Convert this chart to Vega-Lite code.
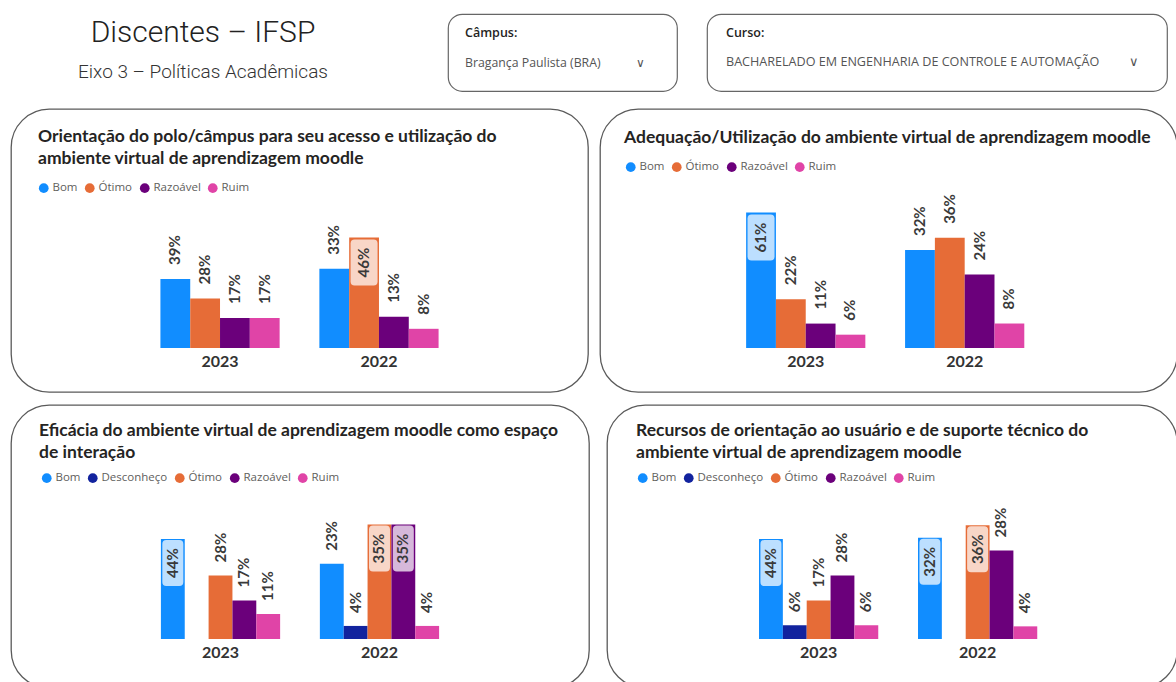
{
  "$schema": "https://vega.github.io/schema/vega-lite/v6.json",
  "background": "white",
  "padding": {"left": 10, "top": 13, "right": 0, "bottom": 0},
  "datasets": {
    "d": [
      {"p": 1, "year": "2023", "cat": "Bom", "v": 0.39},
      {"p": 1, "year": "2023", "cat": "Ótimo", "v": 0.28},
      {"p": 1, "year": "2023", "cat": "Razoável", "v": 0.17},
      {"p": 1, "year": "2023", "cat": "Ruim", "v": 0.17},
      {"p": 1, "year": "2022", "cat": "Bom", "v": 0.33},
      {"p": 1, "year": "2022", "cat": "Ótimo", "v": 0.46},
      {"p": 1, "year": "2022", "cat": "Razoável", "v": 0.13},
      {"p": 1, "year": "2022", "cat": "Ruim", "v": 0.08},
      {"p": 2, "year": "2023", "cat": "Bom", "v": 0.61},
      {"p": 2, "year": "2023", "cat": "Ótimo", "v": 0.22},
      {"p": 2, "year": "2023", "cat": "Razoável", "v": 0.11},
      {"p": 2, "year": "2023", "cat": "Ruim", "v": 0.06},
      {"p": 2, "year": "2022", "cat": "Bom", "v": 0.32},
      {"p": 2, "year": "2022", "cat": "Ótimo", "v": 0.36},
      {"p": 2, "year": "2022", "cat": "Razoável", "v": 0.24},
      {"p": 2, "year": "2022", "cat": "Ruim", "v": 0.08},
      {"p": 3, "year": "2023", "cat": "Bom", "v": 0.44},
      {"p": 3, "year": "2023", "cat": "Ótimo", "v": 0.28},
      {"p": 3, "year": "2023", "cat": "Razoável", "v": 0.17},
      {"p": 3, "year": "2023", "cat": "Ruim", "v": 0.11},
      {"p": 3, "year": "2022", "cat": "Bom", "v": 0.23},
      {"p": 3, "year": "2022", "cat": "Desconheço", "v": 0.04},
      {"p": 3, "year": "2022", "cat": "Ótimo", "v": 0.35},
      {"p": 3, "year": "2022", "cat": "Razoável", "v": 0.35},
      {"p": 3, "year": "2022", "cat": "Ruim", "v": 0.04},
      {"p": 4, "year": "2023", "cat": "Bom", "v": 0.44},
      {"p": 4, "year": "2023", "cat": "Desconheço", "v": 0.06},
      {"p": 4, "year": "2023", "cat": "Ótimo", "v": 0.17},
      {"p": 4, "year": "2023", "cat": "Razoável", "v": 0.28},
      {"p": 4, "year": "2023", "cat": "Ruim", "v": 0.06},
      {"p": 4, "year": "2022", "cat": "Bom", "v": 0.32},
      {"p": 4, "year": "2022", "cat": "Ótimo", "v": 0.36},
      {"p": 4, "year": "2022", "cat": "Razoável", "v": 0.28},
      {"p": 4, "year": "2022", "cat": "Ruim", "v": 0.04}
    ]
  },
  "config": {
    "view": {"stroke": "#5a5a5a", "strokeWidth": 1.3, "cornerRadius": 38},
    "font": "Lato",
    "title": {"anchor": "start", "frame": "group", "font": "Lato", "fontWeight": 700, "fontSize": 17.5, "color": "#252423", "lineHeight": 22},
    "legend": {"orient": "none", "direction": "horizontal", "title": null, "symbolType": "circle", "symbolSize": 95, "symbolStrokeWidth": 0, "labelFont": "Open Sans", "labelFontSize": 11.5, "labelColor": "#605E5C", "columnPadding": 6, "labelOffset": 3},
    "axisX": {"orient": "bottom", "domain": false, "ticks": false, "grid": false, "title": null, "labelAngle": 0, "labelFont": "Lato", "labelFontWeight": 700, "labelFontSize": 16, "labelColor": "#333333", "labelPadding": 5}
  },
  "spacing": 11,
  "resolve": {"scale": {"color": "independent", "x": "independent", "y": "independent", "xOffset": "independent"}, "legend": {"color": "independent"}},
  "vconcat": [
    {
      "spacing": 28,
      "resolve": {"scale": {"color": "independent"}, "legend": {"color": "independent"}},
      "hconcat": [
        {
          "width": 408, "height": 83,
          "view": {"stroke": null},
          "data": {"values": [{"t": ""}]},
          "mark": {"type": "text"},
          "encoding": {"text": {"field": "t"}},
          "title": {"text": "Discentes – IFSP", "subtitle": "Eixo 3 – Políticas Acadêmicas", "anchor": "middle", "frame": "group", "offset": -68, "dx": -12, "font": "Roboto", "fontWeight": 300, "fontSize": 30, "color": "#222222", "subtitleFont": "Roboto", "subtitleFontWeight": 300, "subtitleFontSize": 19, "subtitleColor": "#333333", "subtitlePadding": 15}
        },
        {
          "width": 229, "height": 77,
          "view": {"stroke": "#666666", "cornerRadius": 14, "strokeWidth": 1.2},
          "data": {"values": [{"t": ""}]},
          "mark": {"type": "text"},
          "encoding": {"text": {"field": "t"}},
          "title": {"text": "Câmpus:", "subtitle": "Bragança Paulista (BRA)\u00a0\u00a0\u00a0\u00a0\u00a0\u00a0\u00a0\u00a0\u00a0\u00a0\u00a0∨", "offset": -55, "dx": 17, "font": "Open Sans", "fontWeight": 600, "fontSize": 12.5, "color": "#252423", "subtitleFont": "Open Sans", "subtitleFontSize": 12.3, "subtitleColor": "#555555", "subtitlePadding": 17}
        },
        {
          "width": 460, "height": 77,
          "view": {"stroke": "#666666", "cornerRadius": 14, "strokeWidth": 1.2},
          "data": {"values": [{"t": ""}]},
          "mark": {"type": "text"},
          "encoding": {"text": {"field": "t"}},
          "title": {"text": "Curso:", "subtitle": "BACHARELADO EM ENGENHARIA DE CONTROLE E AUTOMAÇÃO\u00a0\u00a0\u00a0\u00a0\u00a0\u00a0\u00a0\u00a0\u00a0∨", "offset": -55, "dx": 19, "font": "Open Sans", "fontWeight": 600, "fontSize": 12.5, "color": "#252423", "subtitleFont": "Open Sans", "subtitleFontSize": 12.6, "subtitleColor": "#555555", "subtitlePadding": 17}
        }
      ]
    },
    {
      "spacing": 10,
      "resolve": {"scale": {"color": "independent", "x": "independent", "y": "independent", "xOffset": "independent"}, "legend": {"color": "independent"}},
      "hconcat": [
        {
          "width": 577, "height": 283,
          "title": {"text": ["Orientação do polo/câmpus para seu acesso e utilização do", "ambiente virtual de aprendizagem moodle"], "offset": -58, "dx": 27},
          "data": {"name": "d"},
          "transform": [{"filter": "datum.p == 1"}],
          "encoding": {
            "x": {"field": "year", "type": "nominal", "scale": {"domain": ["2023", "2022"], "paddingInner": 0.25, "paddingOuter": 0.94}, "axis": {"offset": -44}},
            "xOffset": {"field": "cat", "type": "nominal", "scale": {"domain": ["Bom", "Ótimo", "Razoável", "Ruim"], "paddingInner": 0, "paddingOuter": 0}},
            "color": {"field": "cat", "type": "nominal", "scale": {"domain": ["Bom", "Ótimo", "Razoável", "Ruim"], "range": ["#118DFF", "#E66C37", "#6B007B", "#E044A7"]}, "legend": {"legendX": 27, "legendY": 73}}
          },
          "resolve": {"scale": {"y": "independent"}},
          "layer": [
            {
              "transform": [{"filter": "datum.year == '2023'"}],
              "encoding": {"y": {"field": "v", "type": "quantitative", "scale": {"domain": [-0.2486, 1.3503], "nice": false, "zero": false}, "axis": null}},
              "layer": [
                {"mark": {"type": "bar"}},
                {"mark": {"type": "text", "angle": -90, "align": "left", "baseline": "middle", "dx": 14, "font": "Lato", "fontWeight": 700, "fontSize": 15}, "encoding": {"text": {"field": "v", "format": ".0%"}, "color": {"value": "#3a3a3a"}}}
              ]
            },
            {
              "transform": [{"filter": "datum.year == '2022'"}],
              "encoding": {"y": {"field": "v", "type": "quantitative", "scale": {"domain": [-0.1833, 0.9958], "nice": false, "zero": false}, "axis": null}},
              "layer": [
                {"mark": {"type": "bar"}},
                {"transform": [{"filter": "datum.v <= 0.4"}], "mark": {"type": "text", "angle": -90, "align": "left", "baseline": "middle", "dx": 14, "font": "Lato", "fontWeight": 700, "fontSize": 15}, "encoding": {"text": {"field": "v", "format": ".0%"}, "color": {"value": "#3a3a3a"}}},
                {"transform": [{"filter": "datum.v > 0.4"}], "mark": {"type": "point", "shape": "M-9.5,2H9.5Q13.5,2 13.5,6V44Q13.5,48 9.5,48H-9.5Q-13.5,48 -13.5,44V6Q-13.5,2 -9.5,2Z", "size": 4, "filled": true, "opacity": 0.72, "strokeWidth": 0}, "encoding": {"color": {"value": "white"}}},
                {"transform": [{"filter": "datum.v > 0.4"}], "mark": {"type": "text", "angle": -90, "align": "center", "baseline": "middle", "dx": -25, "font": "Lato", "fontWeight": 700, "fontSize": 15}, "encoding": {"text": {"field": "v", "format": ".0%"}, "color": {"value": "#3a3a3a"}}}
              ]
            }
          ]
        },
        {
          "width": 577, "height": 283,
          "title": {"text": "Adequação/Utilização do ambiente virtual de aprendizagem moodle", "offset": -37, "dx": 24},
          "data": {"name": "d"},
          "transform": [{"filter": "datum.p == 2"}],
          "encoding": {
            "x": {"field": "year", "type": "nominal", "scale": {"domain": ["2023", "2022"], "paddingInner": 0.25, "paddingOuter": 0.94, "align": 0.489}, "axis": {"offset": -44}},
            "xOffset": {"field": "cat", "type": "nominal", "scale": {"domain": ["Bom", "Ótimo", "Razoável", "Ruim"], "paddingInner": 0, "paddingOuter": 0}},
            "color": {"field": "cat", "type": "nominal", "scale": {"domain": ["Bom", "Ótimo", "Razoável", "Ruim"], "range": ["#118DFF", "#E66C37", "#6B007B", "#E044A7"]}, "legend": {"legendX": 25, "legendY": 52}}
          },
          "resolve": {"scale": {"y": "independent"}},
          "layer": [
            {
              "transform": [{"filter": "datum.year == '2023'"}],
              "encoding": {"y": {"field": "v", "type": "quantitative", "scale": {"domain": [-0.1982, 1.0766], "nice": false, "zero": false}, "axis": null}},
              "layer": [
                {"mark": {"type": "bar"}},
                {"transform": [{"filter": "datum.v <= 0.5"}], "mark": {"type": "text", "angle": -90, "align": "left", "baseline": "middle", "dx": 14, "font": "Lato", "fontWeight": 700, "fontSize": 15}, "encoding": {"text": {"field": "v", "format": ".0%"}, "color": {"value": "#3a3a3a"}}},
                {"transform": [{"filter": "datum.v > 0.5"}], "mark": {"type": "point", "shape": "M-9.5,2H9.5Q13.5,2 13.5,6V44Q13.5,48 9.5,48H-9.5Q-13.5,48 -13.5,44V6Q-13.5,2 -9.5,2Z", "size": 4, "filled": true, "opacity": 0.72, "strokeWidth": 0}, "encoding": {"color": {"value": "white"}}},
                {"transform": [{"filter": "datum.v > 0.5"}], "mark": {"type": "text", "angle": -90, "align": "center", "baseline": "middle", "dx": -25, "font": "Lato", "fontWeight": 700, "fontSize": 15}, "encoding": {"text": {"field": "v", "format": ".0%"}, "color": {"value": "#3a3a3a"}}}
              ]
            },
            {
              "transform": [{"filter": "datum.year == '2022'"}],
              "encoding": {"y": {"field": "v", "type": "quantitative", "scale": {"domain": [-0.1438, 0.781], "nice": false, "zero": false}, "axis": null}},
              "layer": [
                {"mark": {"type": "bar"}},
                {"mark": {"type": "text", "angle": -90, "align": "left", "baseline": "middle", "dx": 14, "font": "Lato", "fontWeight": 700, "fontSize": 15}, "encoding": {"text": {"field": "v", "format": ".0%"}, "color": {"value": "#3a3a3a"}}}
              ]
            }
          ]
        }
      ]
    },
    {
      "spacing": 16,
      "resolve": {"scale": {"color": "independent", "x": "independent", "y": "independent", "xOffset": "independent"}, "legend": {"color": "independent"}},
      "hconcat": [
        {
          "width": 578, "height": 283,
          "title": {"text": ["Eficácia do ambiente virtual de aprendizagem moodle como espaço", "de interação"], "offset": -56, "dx": 28},
          "data": {"name": "d"},
          "transform": [{"filter": "datum.p == 3"}],
          "encoding": {
            "x": {"field": "year", "type": "nominal", "scale": {"domain": ["2023", "2022"], "paddingInner": 0.25, "paddingOuter": 0.943}, "axis": {"offset": -49}},
            "xOffset": {"field": "cat", "type": "nominal", "scale": {"domain": ["Bom", "Desconheço", "Ótimo", "Razoável", "Ruim"], "paddingInner": 0, "paddingOuter": 0}},
            "color": {"field": "cat", "type": "nominal", "scale": {"domain": ["Bom", "Desconheço", "Ótimo", "Razoável", "Ruim"], "range": ["#118DFF", "#12239E", "#E66C37", "#6B007B", "#E044A7"]}, "legend": {"legendX": 30, "legendY": 67}}
          },
          "resolve": {"scale": {"y": "independent"}},
          "layer": [
            {
              "transform": [{"filter": "datum.year == '2023'"}],
              "encoding": {"y": {"field": "v", "type": "quantitative", "scale": {"domain": [-0.2159, 1.0308], "nice": false, "zero": false}, "axis": null}},
              "layer": [
                {"mark": {"type": "bar"}},
                {"transform": [{"filter": "datum.v <= 0.4"}], "mark": {"type": "text", "angle": -90, "align": "left", "baseline": "middle", "dx": 13, "font": "Lato", "fontWeight": 700, "fontSize": 15}, "encoding": {"text": {"field": "v", "format": ".0%"}, "color": {"value": "#3a3a3a"}}},
                {"transform": [{"filter": "datum.v > 0.4"}], "mark": {"type": "point", "shape": "M-6.5,1H6.5Q10.5,1 10.5,5V43Q10.5,47 6.5,47H-6.5Q-10.5,47 -10.5,43V5Q-10.5,1 -6.5,1Z", "size": 4, "filled": true, "opacity": 0.72, "strokeWidth": 0}, "encoding": {"color": {"value": "white"}}},
                {"transform": [{"filter": "datum.v > 0.4"}], "mark": {"type": "text", "angle": -90, "align": "center", "baseline": "middle", "dx": -24, "font": "Lato", "fontWeight": 700, "fontSize": 15}, "encoding": {"text": {"field": "v", "format": ".0%"}, "color": {"value": "#3a3a3a"}}}
              ]
            },
            {
              "transform": [{"filter": "datum.year == '2022'"}],
              "encoding": {"y": {"field": "v", "type": "quantitative", "scale": {"domain": [-0.1498, 0.7156], "nice": false, "zero": false}, "axis": null}},
              "layer": [
                {"mark": {"type": "bar"}},
                {"transform": [{"filter": "datum.v <= 0.3"}], "mark": {"type": "text", "angle": -90, "align": "left", "baseline": "middle", "dx": 13, "font": "Lato", "fontWeight": 700, "fontSize": 15}, "encoding": {"text": {"field": "v", "format": ".0%"}, "color": {"value": "#3a3a3a"}}},
                {"transform": [{"filter": "datum.v > 0.3"}], "mark": {"type": "point", "shape": "M-6.5,1H6.5Q10.5,1 10.5,5V43Q10.5,47 6.5,47H-6.5Q-10.5,47 -10.5,43V5Q-10.5,1 -6.5,1Z", "size": 4, "filled": true, "opacity": 0.72, "strokeWidth": 0}, "encoding": {"color": {"value": "white"}}},
                {"transform": [{"filter": "datum.v > 0.3"}], "mark": {"type": "text", "angle": -90, "align": "center", "baseline": "middle", "dx": -24, "font": "Lato", "fontWeight": 700, "fontSize": 15}, "encoding": {"text": {"field": "v", "format": ".0%"}, "color": {"value": "#3a3a3a"}}}
              ]
            }
          ]
        },
        {
          "width": 570, "height": 283,
          "title": {"text": ["Recursos de orientação ao usuário e de suporte técnico do", "ambiente virtual de aprendizagem moodle"], "offset": -56, "dx": 29},
          "data": {"name": "d"},
          "transform": [{"filter": "datum.p == 4"}],
          "encoding": {
            "x": {"field": "year", "type": "nominal", "scale": {"domain": ["2023", "2022"], "paddingInner": 0.25, "paddingOuter": 0.9175, "align": 0.521}, "axis": {"offset": -49}},
            "xOffset": {"field": "cat", "type": "nominal", "scale": {"domain": ["Bom", "Desconheço", "Ótimo", "Razoável", "Ruim"], "paddingInner": 0, "paddingOuter": 0}},
            "color": {"field": "cat", "type": "nominal", "scale": {"domain": ["Bom", "Desconheço", "Ótimo", "Razoável", "Ruim"], "range": ["#118DFF", "#12239E", "#E66C37", "#6B007B", "#E044A7"]}, "legend": {"legendX": 30, "legendY": 67}}
          },
          "resolve": {"scale": {"y": "independent"}},
          "layer": [
            {
              "transform": [{"filter": "datum.year == '2023'"}],
              "encoding": {"y": {"field": "v", "type": "quantitative", "scale": {"domain": [-0.2159, 1.0308], "nice": false, "zero": false}, "axis": null}},
              "layer": [
                {"mark": {"type": "bar"}},
                {"transform": [{"filter": "datum.v <= 0.4"}], "mark": {"type": "text", "angle": -90, "align": "left", "baseline": "middle", "dx": 13, "font": "Lato", "fontWeight": 700, "fontSize": 15}, "encoding": {"text": {"field": "v", "format": ".0%"}, "color": {"value": "#3a3a3a"}}},
                {"transform": [{"filter": "datum.v > 0.4"}], "mark": {"type": "point", "shape": "M-6.5,1H6.5Q10.5,1 10.5,5V43Q10.5,47 6.5,47H-6.5Q-10.5,47 -10.5,43V5Q-10.5,1 -6.5,1Z", "size": 4, "filled": true, "opacity": 0.72, "strokeWidth": 0}, "encoding": {"color": {"value": "white"}}},
                {"transform": [{"filter": "datum.v > 0.4"}], "mark": {"type": "text", "angle": -90, "align": "center", "baseline": "middle", "dx": -24, "font": "Lato", "fontWeight": 700, "fontSize": 15}, "encoding": {"text": {"field": "v", "format": ".0%"}, "color": {"value": "#3a3a3a"}}}
              ]
            },
            {
              "transform": [{"filter": "datum.year == '2022'"}],
              "encoding": {"y": {"field": "v", "type": "quantitative", "scale": {"domain": [-0.1551, 0.7405], "nice": false, "zero": false}, "axis": null}},
              "layer": [
                {"mark": {"type": "bar"}},
                {"transform": [{"filter": "datum.v <= 0.3"}], "mark": {"type": "text", "angle": -90, "align": "left", "baseline": "middle", "dx": 13, "font": "Lato", "fontWeight": 700, "fontSize": 15}, "encoding": {"text": {"field": "v", "format": ".0%"}, "color": {"value": "#3a3a3a"}}},
                {"transform": [{"filter": "datum.v > 0.3"}], "mark": {"type": "point", "shape": "M-6.5,1H6.5Q10.5,1 10.5,5V43Q10.5,47 6.5,47H-6.5Q-10.5,47 -10.5,43V5Q-10.5,1 -6.5,1Z", "size": 4, "filled": true, "opacity": 0.72, "strokeWidth": 0}, "encoding": {"color": {"value": "white"}}},
                {"transform": [{"filter": "datum.v > 0.3"}], "mark": {"type": "text", "angle": -90, "align": "center", "baseline": "middle", "dx": -24, "font": "Lato", "fontWeight": 700, "fontSize": 15}, "encoding": {"text": {"field": "v", "format": ".0%"}, "color": {"value": "#3a3a3a"}}}
              ]
            }
          ]
        }
      ]
    }
  ]
}
